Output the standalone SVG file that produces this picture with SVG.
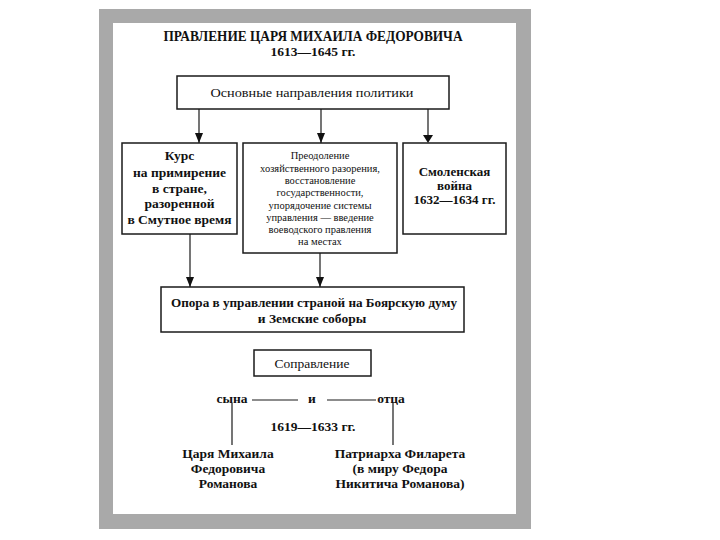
<svg xmlns="http://www.w3.org/2000/svg" width="720" height="540" viewBox="0 0 720 540">
<defs>
<style>
.box{fill:#fff;stroke:#1a1a1a;stroke-width:1.5}
.t{font-family:"Liberation Serif","Times New Roman",serif;fill:#111;text-anchor:middle}
.b{font-weight:bold}
.ln{stroke:#1a1a1a;stroke-width:1.2;fill:none}
</style>
<marker id="ah" viewBox="0 0 10 8" refX="10" refY="4" markerWidth="10" markerHeight="8" markerUnits="userSpaceOnUse" orient="auto">
<path d="M0,0 L10,4 L0,8 Z" fill="#111"/>
</marker>
</defs>
<rect x="0" y="0" width="720" height="540" fill="#fff"/>
<rect x="99" y="9" width="432" height="520" fill="#a9a9a9"/>
<rect x="113" y="23" width="403" height="491" fill="#fff"/>
<g id="title">
<text class="t b" x="313" y="41" font-size="14" textLength="299" lengthAdjust="spacingAndGlyphs">ПРАВЛЕНИЕ ЦАРЯ МИХАИЛА ФЕДОРОВИЧА</text>
<text class="t b" x="313" y="56" font-size="13.5">1613—1645 гг.</text>
</g>
<g id="connectors">
<line class="ln" x1="199" y1="109" x2="199" y2="143" marker-end="url(#ah)"/>
<line class="ln" x1="321" y1="109" x2="321" y2="143" marker-end="url(#ah)"/>
<line class="ln" x1="428" y1="109" x2="428" y2="136" stroke-width="2.5"/>
<path d="M423,135 L433,135 L428,143 Z" fill="#111"/>
<line class="ln" x1="190" y1="234" x2="190" y2="287" marker-end="url(#ah)"/>
<line class="ln" x1="320" y1="253" x2="320" y2="287" marker-end="url(#ah)"/>
<line class="ln" x1="252" y1="400" x2="298" y2="400"/>
<line class="ln" x1="327" y1="400" x2="376" y2="400"/>
<line class="ln" x1="232" y1="403" x2="232" y2="445"/>
<line class="ln" x1="393" y1="403" x2="393" y2="445"/>
</g>
<g id="main">
<rect class="box" x="177" y="76" width="272" height="33"/>
<text class="t" x="312" y="97" font-size="13" textLength="203" lengthAdjust="spacingAndGlyphs">Основные направления политики</text>
</g>
<g id="kurs">
<rect class="box" x="122" y="143" width="115" height="91"/>
<text class="t b" font-size="13.5"><tspan x="179.5" y="160">Курс</tspan><tspan x="179.5" y="176.5">на примирение</tspan><tspan x="179.5" y="192.5">в стране,</tspan><tspan x="179.5" y="207.5">разоренной</tspan><tspan x="179.5" y="223.5">в Смутное время</tspan></text>
</g>
<g id="preodolenie">
<rect class="box" x="243" y="143" width="154" height="110"/>
<text class="t" font-size="10.5"><tspan x="320" y="159">Преодоление</tspan><tspan x="320" y="171.5">хозяйственного разорения,</tspan><tspan x="320" y="184">восстановление</tspan><tspan x="320" y="196">государственности,</tspan><tspan x="320" y="208.5">упорядочение системы</tspan><tspan x="320" y="220.5">управления — введение</tspan><tspan x="320" y="233">воеводского правления</tspan><tspan x="320" y="245">на местах</tspan></text>
</g>
<g id="smolensk">
<rect class="box" x="403" y="143" width="103" height="91"/>
<text class="t b" font-size="13"><tspan x="454.5" y="176">Смоленская</tspan><tspan x="454.5" y="190">война</tspan><tspan x="454.5" y="204">1632—1634 гг.</tspan></text>
</g>
<g id="opora">
<rect class="box" x="161" y="287" width="303" height="45"/>
<text class="t b" font-size="13.5"><tspan x="314" y="307" textLength="286" lengthAdjust="spacingAndGlyphs">Опора в управлении страной на Боярскую думу</tspan><tspan x="312" y="323">и Земские соборы</tspan></text>
</g>
<g id="sopravlenie">
<rect class="box" x="254" y="350" width="117" height="26"/>
<text class="t" x="312" y="368" font-size="13.5">Соправление</text>
</g>
<g id="labels">
<text class="t b" x="232" y="403" font-size="13.5">сына</text>
<text class="t b" x="312" y="403" font-size="13.5">и</text>
<text class="t b" x="391" y="403" font-size="13.5">отца</text>
<text class="t b" x="313" y="431" font-size="13.5">1619—1633 гг.</text>
</g>
<g id="mikhail">
<text class="t b" font-size="13.5"><tspan x="228" y="458">Царя Михаила</tspan><tspan x="228" y="473">Федоровича</tspan><tspan x="228" y="488">Романова</tspan></text>
</g>
<g id="filaret">
<text class="t b" font-size="13.5"><tspan x="400" y="458">Патриарха Филарета</tspan><tspan x="400" y="473">(в миру Федора</tspan><tspan x="400" y="488">Никитича Романова)</tspan></text>
</g>
</svg>
